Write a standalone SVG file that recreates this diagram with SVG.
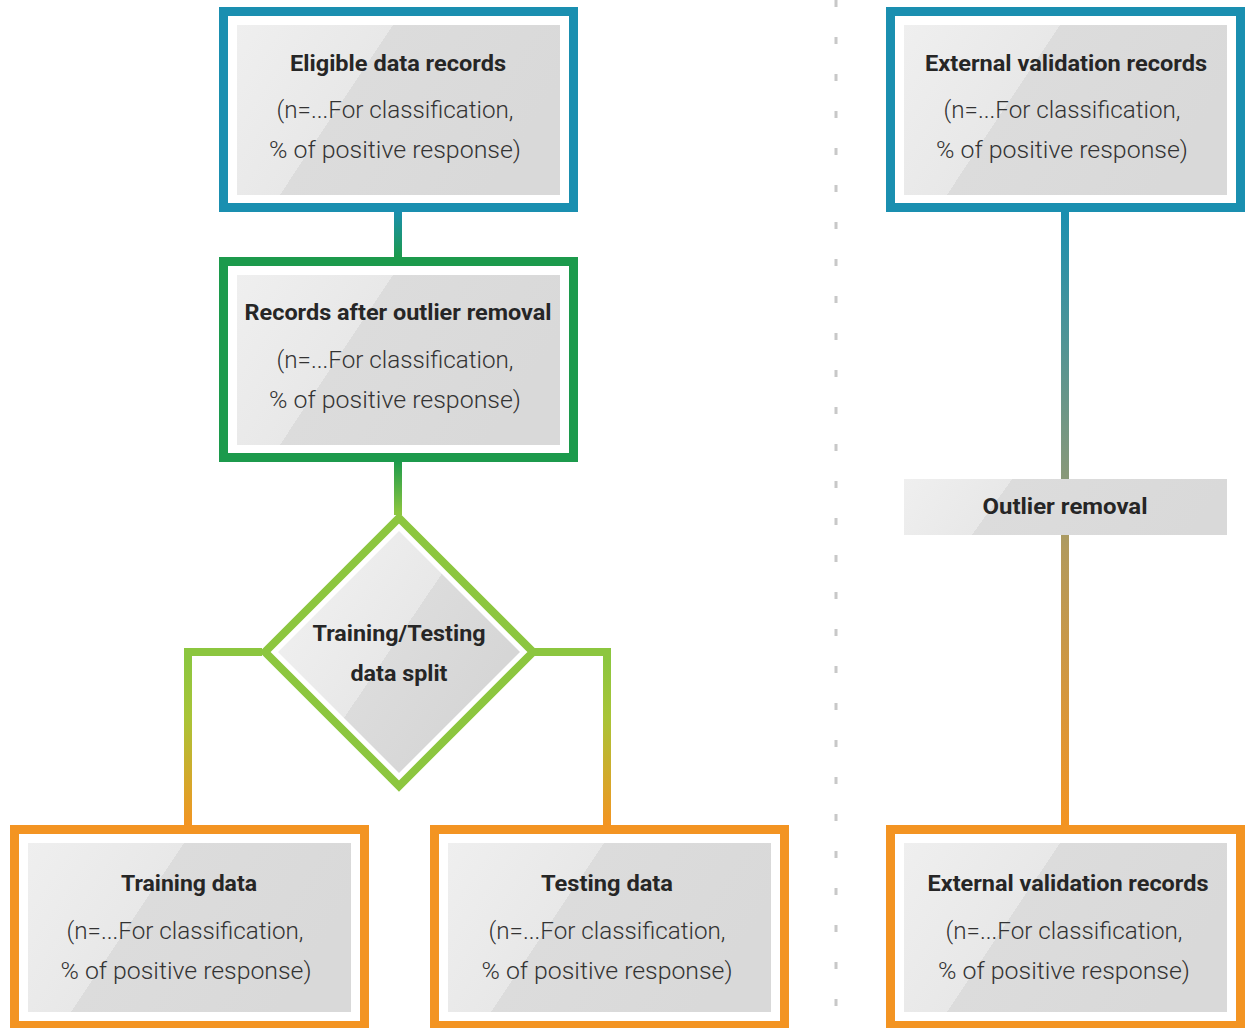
<svg xmlns="http://www.w3.org/2000/svg" width="1253" height="1028" viewBox="0 0 1253 1028">
<style>
.t{font-family:Roboto,"Liberation Sans",sans-serif;font-weight:700;font-size:22px;fill:#262626;text-anchor:middle}
.b{font-family:Roboto,"Liberation Sans",sans-serif;font-weight:300;font-size:24px;fill:#333;text-anchor:middle}
.frame{fill:#fff;stroke-width:9}
.con{fill:none;stroke-width:8}
</style>
<defs>
<linearGradient id="gbox" x1="0" y1="0" x2="1" y2="0.35">
<stop offset="0" stop-color="#efefef"/><stop offset="0.43" stop-color="#e8e8e8"/><stop offset="0.43" stop-color="#dcdcdc"/><stop offset="1" stop-color="#d9d9d9"/>
</linearGradient>
<linearGradient id="gbar" x1="0" y1="0" x2="1" y2="0.125">
<stop offset="0" stop-color="#efefef"/><stop offset="0.33" stop-color="#e8e8e8"/><stop offset="0.33" stop-color="#dcdcdc"/><stop offset="1" stop-color="#d9d9d9"/>
</linearGradient>
<linearGradient id="gdia" gradientUnits="userSpaceOnUse" x1="311" y1="589" x2="476" y2="701">
<stop offset="0" stop-color="#efefef"/><stop offset="0.5" stop-color="#e8e8e8"/><stop offset="0.5" stop-color="#dcdcdc"/><stop offset="1" stop-color="#d6d6d6"/>
</linearGradient>
<linearGradient id="c1" gradientUnits="userSpaceOnUse" x1="0" y1="211" x2="0" y2="257">
<stop offset="0" stop-color="#1a8fb0"/><stop offset="1" stop-color="#1c9a4c"/>
</linearGradient>
<linearGradient id="c2" gradientUnits="userSpaceOnUse" x1="0" y1="461" x2="0" y2="513">
<stop offset="0" stop-color="#1c9a4c"/><stop offset="1" stop-color="#8cc63f"/>
</linearGradient>
<linearGradient id="c3" gradientUnits="userSpaceOnUse" x1="0" y1="660" x2="0" y2="825">
<stop offset="0" stop-color="#8cc63f"/><stop offset="0.35" stop-color="#a9c437"/><stop offset="1" stop-color="#f39422"/>
</linearGradient>
<linearGradient id="c4" gradientUnits="userSpaceOnUse" x1="0" y1="211" x2="0" y2="825">
<stop offset="0" stop-color="#1a8fb0"/><stop offset="0.44" stop-color="#8a9978"/><stop offset="0.55" stop-color="#b29a5c"/><stop offset="1" stop-color="#f39422"/>
</linearGradient>
</defs>

<g id="divider">
<line x1="836" y1="0" x2="836" y2="1028" stroke="#c8c8c8" stroke-width="3" stroke-dasharray="7 30"/>
</g>

<g id="connectors">
<line class="con" x1="398" y1="209" x2="398" y2="259" stroke="url(#c1)"/>
<line class="con" x1="398" y1="459" x2="398" y2="515" stroke="url(#c2)"/>
<path class="con" d="M262 652 H188 V827" stroke="url(#c3)"/>
<path class="con" d="M534 652 H607 V827" stroke="url(#c3)"/>
<line class="con" x1="1065" y1="209" x2="1065" y2="827" stroke="url(#c4)"/>
</g>

<g id="eligible">
<rect class="frame" x="223.5" y="11.5" width="350" height="196" stroke="#1a8fb0"/>
<rect x="237" y="25" width="323" height="170" fill="url(#gbox)"/>
<text class="t" x="398" y="71" textLength="216" lengthAdjust="spacingAndGlyphs">Eligible data records</text>
<text class="b" x="395" y="118" textLength="237" lengthAdjust="spacingAndGlyphs">(n=...For classification,</text>
<text class="b" x="395" y="158" textLength="252" lengthAdjust="spacingAndGlyphs">% of positive response)</text>
</g>

<g id="after-outlier">
<rect class="frame" x="223.5" y="261.5" width="350" height="196" stroke="#1c9a4c"/>
<rect x="237" y="275" width="323" height="170" fill="url(#gbox)"/>
<text class="t" x="398" y="320" textLength="307" lengthAdjust="spacingAndGlyphs">Records after outlier removal</text>
<text class="b" x="395" y="368" textLength="237" lengthAdjust="spacingAndGlyphs">(n=...For classification,</text>
<text class="b" x="395" y="408" textLength="252" lengthAdjust="spacingAndGlyphs">% of positive response)</text>
</g>

<g id="split">
<polygon points="399,518 533,652 399,786 265,652" fill="#fff" stroke="#8cc63f" stroke-width="8"/>
<polygon points="399,531 520,652 399,773 278,652" fill="url(#gdia)"/>
<text class="t" x="399" y="641" textLength="173" lengthAdjust="spacingAndGlyphs">Training/Testing</text>
<text class="t" x="399" y="681" textLength="97" lengthAdjust="spacingAndGlyphs">data split</text>
</g>

<g id="training">
<rect class="frame" x="14.5" y="829.5" width="350" height="196" stroke="#f39422"/>
<rect x="28" y="843" width="323" height="169" fill="url(#gbox)"/>
<text class="t" x="189" y="891" textLength="136" lengthAdjust="spacingAndGlyphs">Training data</text>
<text class="b" x="185" y="939" textLength="237" lengthAdjust="spacingAndGlyphs">(n=...For classification,</text>
<text class="b" x="186" y="979" textLength="251" lengthAdjust="spacingAndGlyphs">% of positive response)</text>
</g>

<g id="testing">
<rect class="frame" x="434.5" y="829.5" width="350" height="196" stroke="#f39422"/>
<rect x="448" y="843" width="323" height="169" fill="url(#gbox)"/>
<text class="t" x="607" y="891" textLength="132" lengthAdjust="spacingAndGlyphs">Testing data</text>
<text class="b" x="607" y="939" textLength="237" lengthAdjust="spacingAndGlyphs">(n=...For classification,</text>
<text class="b" x="607" y="979" textLength="251" lengthAdjust="spacingAndGlyphs">% of positive response)</text>
</g>

<g id="external-top">
<rect class="frame" x="890.5" y="11.5" width="350" height="196" stroke="#1a8fb0"/>
<rect x="904" y="25" width="323" height="170" fill="url(#gbox)"/>
<text class="t" x="1066" y="71" textLength="282" lengthAdjust="spacingAndGlyphs">External validation records</text>
<text class="b" x="1062" y="118" textLength="237" lengthAdjust="spacingAndGlyphs">(n=...For classification,</text>
<text class="b" x="1062" y="158" textLength="252" lengthAdjust="spacingAndGlyphs">% of positive response)</text>
</g>

<g id="outlier-removal">
<rect x="904" y="479" width="323" height="56" fill="url(#gbar)"/>
<text class="t" x="1065" y="514" textLength="165" lengthAdjust="spacingAndGlyphs">Outlier removal</text>
</g>

<g id="external-bottom">
<rect class="frame" x="890.5" y="829.5" width="350" height="196" stroke="#f39422"/>
<rect x="904" y="843" width="323" height="169" fill="url(#gbox)"/>
<text class="t" x="1068" y="891" textLength="281" lengthAdjust="spacingAndGlyphs">External validation records</text>
<text class="b" x="1064" y="939" textLength="237" lengthAdjust="spacingAndGlyphs">(n=...For classification,</text>
<text class="b" x="1064" y="979" textLength="252" lengthAdjust="spacingAndGlyphs">% of positive response)</text>
</g>
</svg>
